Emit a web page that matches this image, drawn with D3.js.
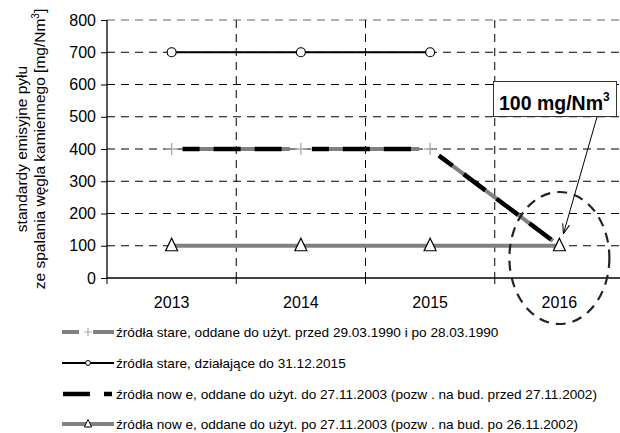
<!DOCTYPE html>
<html>
<head>
<meta charset="utf-8">
<script src="https://cdn.jsdelivr.net/npm/d3@7"></script>
<style>
  html, body { margin: 0; padding: 0; background: #fff; }
  svg { display: block; font-family: Arial, "Liberation Sans", sans-serif; }
</style>
</head>
<body>
<svg id="chart" width="620" height="433"></svg>
<script>
// ---- data ----
const years = ["2013", "2014", "2015", "2016"];
const yTicks = [0, 100, 200, 300, 400, 500, 600, 700, 800];
const starePrzedPo1990 = [400, 400, 400, 100];
const stareDo2015 = [700, 700, 700, null];
const noweDo2003 = [400, 400, 400, 100];
const nowePo2003 = [100, 100, 100, 100];
const legendLabels = [
  "źródła stare, oddane do użyt. przed 29.03.1990 i po 28.03.1990",
  "źródła stare, działające do 31.12.2015",
  "źródła now e, oddane do użyt. do 27.11.2003 (pozw . na bud. przed 27.11.2002)",
  "źródła now e, oddane do użyt. po 27.11.2003 (pozw . na bud. po 26.11.2002)"
];
const yTitle1 = "standardy emisyjne pyłu";
const yTitle2 = "ze spalania węgla kamiennego [mg/Nm";
const calloutValue = 100;
const calloutYear = "2016";
const calloutText = "100 mg/Nm";

// ---- layout ----
const svg = d3.select("#chart");
const pL = 107, pR = 624, pT = 20, pB = 278;
const x = d3.scaleBand().domain(years).range([pL, pR]).padding(0);
const y = d3.scaleLinear().domain([0, 800]).range([pB, pT]);
const cx = d => x(d) + x.bandwidth() / 2;
const gray = "#808080";

// gridlines horizontal
svg.append("g").selectAll("line").data(yTicks.filter(v => v > 0)).join("line")
  .attr("x1", pL).attr("x2", pR)
  .attr("y1", d => y(d)).attr("y2", d => y(d))
  .attr("stroke", d => d === 800 ? "#999" : "#000")
  .attr("stroke-width", d => d === 800 ? 1.5 : 1)
  .attr("stroke-dasharray", "8,6");
// gridlines vertical (band boundaries)
svg.append("g").selectAll("line").data(years.slice(1)).join("line")
  .attr("x1", d => x(d)).attr("x2", d => x(d))
  .attr("y1", pT).attr("y2", pB)
  .attr("stroke", "#000").attr("stroke-width", 1)
  .attr("stroke-dasharray", "8,6");

// axes
const yAxis = svg.append("g").attr("transform", `translate(${pL},0)`)
  .call(d3.axisLeft(y).tickValues(yTicks).tickSize(6).tickPadding(5));
yAxis.select(".domain").attr("d", `M0,${pT}V${pB}`).attr("stroke", "#000").attr("stroke-width", 1.3);
yAxis.selectAll("text").attr("font-size", 16).attr("font-family", "Arial, 'Liberation Sans', sans-serif").attr("fill", "#000");

const xAxis = svg.append("g").attr("transform", `translate(0,${pB})`);
xAxis.append("line").attr("x1", pL).attr("x2", pR).attr("y1", 0).attr("y2", 0)
  .attr("stroke", "#000").attr("stroke-width", 1.3);
xAxis.selectAll("line.tk").data(years).join("line").attr("class", "tk")
  .attr("x1", d => x(d)).attr("x2", d => x(d)).attr("y1", 0).attr("y2", 6)
  .attr("stroke", "#000");
xAxis.selectAll("text").data(years).join("text")
  .attr("x", d => cx(d)).attr("y", 30)
  .attr("text-anchor", "middle").attr("font-size", 16).text(d => d);

// y title
const yt = svg.append("text").attr("transform", `translate(27,${(pT + pB) / 2}) rotate(-90)`)
  .attr("text-anchor", "middle").attr("font-size", 15.5);
yt.append("tspan").text(yTitle1);
const yt2 = svg.append("text").attr("transform", `translate(45,${(pT + pB) / 2}) rotate(-90)`)
  .attr("text-anchor", "middle").attr("font-size", 15.5);
yt2.append("tspan").text(yTitle2);
yt2.append("tspan").attr("font-size", 10).attr("dy", -6).text("3");
yt2.append("tspan").attr("dy", 6).text("]");

// helper: segments shortened near markers
function gappedSegments(vals, gap0, gap1) {
  const pts = years.map((yr, i) => vals[i] == null ? null : [cx(yr), y(vals[i])]);
  const segs = [];
  for (let i = 0; i < pts.length - 1; i++) {
    const a = pts[i], b = pts[i + 1];
    if (!a || !b) continue;
    const dx = b[0] - a[0], dy = b[1] - a[1], L = Math.hypot(dx, dy);
    const ux = dx / L, uy = dy / L;
    const g1 = (i + 1 === pts.length - 1) ? gap1 : gap0;
    segs.push([[a[0] + ux * gap0, a[1] + uy * gap0], [b[0] - ux * g1, b[1] - uy * g1]]);
  }
  return segs;
}
const line = d3.line();

// series 4: new after 2003 (gray, triangles)
svg.append("path").datum(years.map((yr, i) => [cx(yr), y(nowePo2003[i])]))
  .attr("d", line).attr("fill", "none").attr("stroke", gray).attr("stroke-width", 4);

// series 2: old until 2015 (black, circles)
svg.append("path").datum(years.map((yr, i) => stareDo2015[i] == null ? null : [cx(yr), y(stareDo2015[i])]).filter(Boolean))
  .attr("d", line).attr("fill", "none").attr("stroke", "#000").attr("stroke-width", 2);

// series 1: gray with gaps
const segs1 = gappedSegments(starePrzedPo1990, 11, 8);
svg.append("g").selectAll("path").data(segs1).join("path")
  .attr("d", line).attr("fill", "none").attr("stroke", gray).attr("stroke-width", 4);
// series 3: black dashed over
const segs3 = gappedSegments(noweDo2003, 11, 8);
svg.append("g").selectAll("path").data(segs3).join("path")
  .attr("d", line).attr("fill", "none").attr("stroke", "#000").attr("stroke-width", 4.5)
  .attr("stroke-dasharray", "27,14").attr("stroke-dashoffset", 10);

// markers: circles
svg.append("g").selectAll("circle").data(years.filter((yr, i) => stareDo2015[i] != null)).join("circle")
  .attr("cx", d => cx(d)).attr("cy", d => y(stareDo2015[years.indexOf(d)])).attr("r", 4.5)
  .attr("fill", "#fff").attr("stroke", "#000").attr("stroke-width", 1.2);
// markers: plus (hidden where triangle overlaps)
svg.append("g").selectAll("path").data(years.filter((yr, i) => starePrzedPo1990[i] !== nowePo2003[i])).join("path")
  .attr("d", d => { const px = cx(d), py = y(starePrzedPo1990[years.indexOf(d)]); return `M${px - 6},${py}H${px + 6}M${px},${py - 6}V${py + 6}`; })
  .attr("stroke", "#aaa").attr("stroke-width", 1.3).attr("fill", "none");
// markers: triangles
const tri = (px, py, s) => `M${px},${py - s * 0.75}L${px + s * 0.6},${py + s * 0.5}L${px - s * 0.6},${py + s * 0.5}Z`;
svg.append("g").selectAll("path").data(years).join("path")
  .attr("d", d => tri(cx(d), y(nowePo2003[years.indexOf(d)]), 10))
  .attr("fill", "#fff").attr("stroke", "#000").attr("stroke-width", 1.2);

// dashed ellipse around callout year
svg.append("ellipse").attr("cx", cx(calloutYear)).attr("cy", 258).attr("rx", 50).attr("ry", 66)
  .attr("fill", "none").attr("stroke", "#222").attr("stroke-width", 2.2).attr("stroke-dasharray", "10,7");

// callout box
svg.append("defs").append("marker").attr("id", "arr").attr("viewBox", "0 0 10 10")
  .attr("refX", 10).attr("refY", 5).attr("markerWidth", 10).attr("markerHeight", 10)
  .attr("markerUnits", "userSpaceOnUse").attr("orient", "auto")
  .append("path").attr("d", "M0,1.5L10,5L0,8.5").attr("fill", "none").attr("stroke", "#000").attr("stroke-width", 1);
const tx = cx(calloutYear), ty = y(calloutValue);
svg.append("line").attr("x1", 597).attr("y1", 117).attr("x2", tx + 4).attr("y2", ty - 12)
  .attr("stroke", "#000").attr("stroke-width", 1).attr("marker-end", "url(#arr)");
svg.append("rect").attr("x", 493.5).attr("y", 81.5).attr("width", 123).attr("height", 35)
  .attr("fill", "#fff").attr("stroke", "#333").attr("stroke-width", 1);
const ct = svg.append("text").attr("x", 499).attr("y", 110).attr("font-size", 19.5).attr("font-weight", "bold");
ct.append("tspan").text(calloutText);
ct.append("tspan").attr("font-size", 12).attr("dy", -9).text("3");

// legend
const lg = svg.append("g");
const rowsY = [332, 363, 394, 424];
const lx0 = 62, lx1 = 114, lm = 88;
legendLabels.forEach((lab, i) => {
  const ry = rowsY[i];
  const g = lg.append("g");
  if (i === 0) {
    g.append("line").attr("x1", lx0).attr("x2", 79).attr("y1", ry).attr("y2", ry).attr("stroke", gray).attr("stroke-width", 4);
    g.append("line").attr("x1", 93).attr("x2", lx1).attr("y1", ry).attr("y2", ry).attr("stroke", gray).attr("stroke-width", 4);
    g.append("path").attr("d", `M${lm - 4},${ry}H${lm + 4}M${lm},${ry - 4}V${ry + 4}`).attr("stroke", "#aaa").attr("stroke-width", 1.2);
  } else if (i === 1) {
    g.append("line").attr("x1", lx0).attr("x2", lx1).attr("y1", ry).attr("y2", ry).attr("stroke", "#000").attr("stroke-width", 2);
    g.append("circle").attr("cx", lm).attr("cy", ry).attr("r", 2.5).attr("fill", "#fff").attr("stroke", "#000").attr("stroke-width", 1);
  } else if (i === 2) {
    g.append("line").attr("x1", 63).attr("x2", 90).attr("y1", ry).attr("y2", ry).attr("stroke", "#000").attr("stroke-width", 4.5);
    g.append("line").attr("x1", 104).attr("x2", 112).attr("y1", ry).attr("y2", ry).attr("stroke", "#000").attr("stroke-width", 4.5);
  } else {
    g.append("line").attr("x1", lx0).attr("x2", lx1).attr("y1", ry).attr("y2", ry).attr("stroke", gray).attr("stroke-width", 4);
    g.append("path").attr("d", tri(lm, ry, 6)).attr("fill", "#fff").attr("stroke", "#000").attr("stroke-width", 1);
  }
  g.append("text").attr("x", 116).attr("y", ry + 5).attr("font-size", 13.6).text(lab);
});
</script>
</body>
</html>
